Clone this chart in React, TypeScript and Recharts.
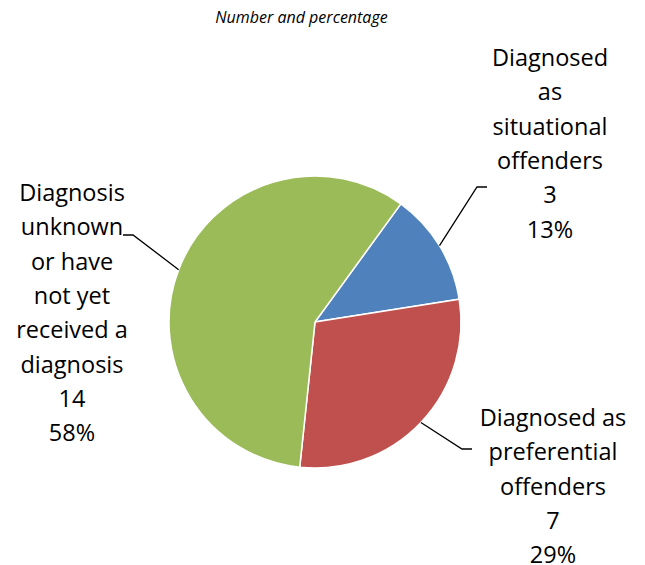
import React from "react";
import { PieChart, Pie, Cell } from "recharts";

// Offender diagnosis breakdown
const categories: string[][] = [
  ["Diagnosed", "as", "situational", "offenders"],
  ["Diagnosed as", "preferential", "offenders"],
  ["Diagnosis", "unknown", "or have", "not yet", "received a", "diagnosis"],
];
const counts: number[] = [3, 7, 14];
const colors: string[] = ["#4F81BD", "#C0504D", "#9BBB59"];
const title = "Number and percentage";

const total = counts.reduce((a, b) => a + b, 0);
const data = counts.map((value, i) => ({ name: categories[i].join(" "), value, lines: categories[i] }));

// Label layout relative to the pie centre: leader-line elbow, horizontal tail direction,
// and the centre / first-line position of each text block.
const labelLayout = [
  { elbow: [162, -135], tail: 10, text: [235, -265] },
  { elbow: [147, 127], tail: 10, text: [238, 95] },
  { elbow: [-182, -87], tail: -10, text: [-243, -130] },
];

const FONT = "'Open Sans', Lato, sans-serif";
const LINE_H = 34.3;
const RAD = Math.PI / 180;

const renderLabel = (props: any) => {
  const { cx, cy, midAngle, outerRadius, index, value } = props;
  const layout = labelLayout[index];
  const sx = cx + outerRadius * Math.cos(-midAngle * RAD);
  const sy = cy + outerRadius * Math.sin(-midAngle * RAD);
  const ex = cx + layout.elbow[0];
  const ey = cy + layout.elbow[1];
  const tx = ex + layout.tail;
  const lines = [...data[index].lines, String(value), `${Math.round((value / total) * 100)}%`];
  const textX = cx + layout.text[0];
  const textY = cy + layout.text[1];
  return (
    <g key={`lbl-${index}`}>
      <polyline
        points={`${sx},${sy} ${ex},${ey} ${tx},${ey}`}
        fill="none"
        stroke="#000"
        strokeWidth={1.3}
      />
      <text
        x={textX}
        y={textY}
        textAnchor="middle"
        dominantBaseline="central"
        fontFamily={FONT}
        fontSize={23.5}
        fill="#000"
      >
        {lines.map((ln, i) => (
          <tspan key={i} x={textX} dy={i === 0 ? 0 : LINE_H}>
            {ln}
          </tspan>
        ))}
      </text>
    </g>
  );
};

export default function App() {
  return (
    <div style={{ position: "absolute", left: 0, top: 0, width: 645, height: 565, background: "#fff" }}>
      <div
        style={{
          position: "absolute",
          left: 0,
          top: 6,
          width: 603,
          textAlign: "center",
          fontFamily: FONT,
          fontStyle: "italic",
          fontSize: 16,
          color: "#000",
        }}
      >
        {title}
      </div>
      <PieChart width={645} height={565} margin={{ top: 0, right: 0, bottom: 0, left: 0 }}>
        <Pie
          data={data}
          dataKey="value"
          nameKey="name"
          cx={315}
          cy={322}
          outerRadius={146}
          startAngle={54}
          endAngle={-306}
          stroke="#fff"
          strokeWidth={1.5}
          label={renderLabel}
          labelLine={false}
          isAnimationActive={false}
        >
          {data.map((d, i) => (
            <Cell key={d.name} fill={colors[i]} />
          ))}
        </Pie>
      </PieChart>
    </div>
  );
}
